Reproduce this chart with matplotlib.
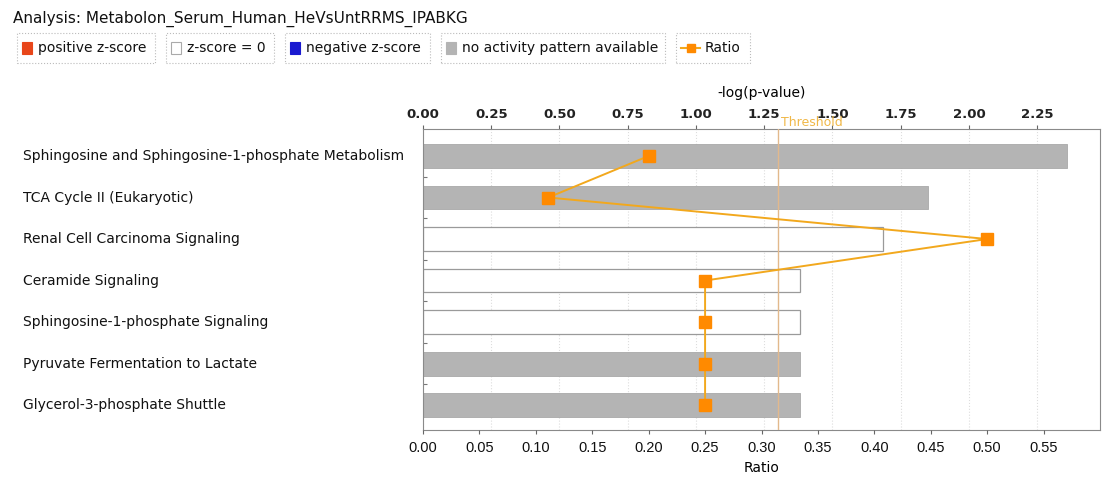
import matplotlib.pyplot as plt
import matplotlib.transforms as mtransforms
from matplotlib.patches import Rectangle
from matplotlib.lines import Line2D

pathways = [
    "Sphingosine and Sphingosine-1-phosphate Metabolism",
    "TCA Cycle II (Eukaryotic)",
    "Renal Cell Carcinoma Signaling",
    "Ceramide Signaling",
    "Sphingosine-1-phosphate Signaling",
    "Pyruvate Fermentation to Lactate",
    "Glycerol-3-phosphate Shuttle",
]
neg_log_p = [2.36, 1.85, 1.685, 1.38, 1.38, 1.38, 1.38]
ratio = [0.20, 0.111, 0.50, 0.25, 0.25, 0.25, 0.25]
zscore_kind = ["none", "none", "zero", "zero", "zero", "none", "none"]
threshold = 1.30

top_ticks = [0.00, 0.25, 0.50, 0.75, 1.00, 1.25, 1.50, 1.75, 2.00, 2.25]
bottom_ticks = [0.00, 0.05, 0.10, 0.15, 0.20, 0.25, 0.30, 0.35, 0.40, 0.45, 0.50, 0.55]

GRAY = "#b4b4b4"
ORANGE = "#ff8a00"
LINE = "#f2a81d"

fig = plt.figure(figsize=(11.03, 4.79), dpi=100)
W, H = 1103, 479
ax = fig.add_axes([423 / W, 1 - 430 / H, (1100 - 423) / W, (430 - 129) / H])
ax2 = ax.twiny()

ypos = list(range(len(pathways)))
for y, v, kind in zip(ypos, neg_log_p, zscore_kind):
    if kind == "none":
        ax.barh(y, v, height=0.575, color=GRAY, edgecolor="#a8a8a8", linewidth=0.6, zorder=2)
    else:
        ax.barh(y, v, height=0.575, color="white", edgecolor="#9a9a9a", linewidth=0.9, zorder=2)

# top axis: -log(p-value)
ax.set_xlim(0, 2.48)
ax.set_ylim(6.6, -0.65)
ax.xaxis.tick_top()
ax.xaxis.set_label_position("top")
ax.set_xticks(top_ticks)
ax.set_xticklabels([f"{t:.2f}" for t in top_ticks], fontsize=9.5, fontweight="bold", color="#222222")
ax.set_xlabel("-log(p-value)", fontsize=10, labelpad=8)
ax.grid(axis="x", color="#dddddd", linestyle=":", linewidth=0.8, zorder=0)
ax.tick_params(axis="x", length=3, width=0.8, pad=3, colors="#666666", labelcolor="#222222")
ax.set_yticks([y + 0.5 for y in ypos[:-1]])
ax.set_yticklabels([])
ax.tick_params(axis="y", length=3, direction="in", colors="#777777")
for s in ax.spines.values():
    s.set_color("#8a8a8a")
    s.set_linewidth(0.8)

ax.axvline(threshold, color="#e2b98c", linewidth=1.0, zorder=3)
ax.text(threshold + 0.01, -0.8, "Threshold", color="#f0b848", fontsize=9, va="center", ha="left",
        zorder=4, clip_on=False)

# pathway labels, left aligned
trans = mtransforms.blended_transform_factory(fig.transFigure, ax.transData)
for y, name in zip(ypos, pathways):
    ax.text(23 / W, y, name, transform=trans, ha="left", va="center", fontsize=10, color="#111111")

# bottom axis: Ratio
ax2.xaxis.tick_bottom()
ax2.xaxis.set_label_position("bottom")
ax2.set_xlim(0, 0.60)
ax2.set_xticks(bottom_ticks)
ax2.set_xticklabels([f"{t:.2f}" for t in bottom_ticks], fontsize=10.5, family="Liberation Sans", color="#111111")
ax2.set_xlabel("Ratio", fontsize=10, labelpad=4)
ax2.tick_params(axis="x", length=3, width=0.8, pad=5, colors="#666666", labelcolor="#111111")
for s in ax2.spines.values():
    s.set_visible(False)
ax2.plot(ratio, ypos, color=LINE, linewidth=1.4, marker="s", markersize=8,
         markerfacecolor=ORANGE, markeredgecolor=ORANGE, zorder=5)

# header
fig.text(13 / W, 1 - 19 / H, "Analysis: Metabolon_Serum_Human_HeVsUntRRMS_IPABKG",
         fontsize=11, va="center", ha="left", color="#111111")

legend_items = [
    (17, 155, "positive z-score", "square", "#e8461a", "#e8461a"),
    (166, 274, "z-score = 0", "square", "white", "#aaaaaa"),
    (285, 430, "negative z-score", "square", "#1a1ad0", "#1a1ad0"),
    (441, 665, "no activity pattern available", "square", "#b4b4b4", "#b4b4b4"),
    (676, 750, "Ratio", "line", ORANGE, LINE),
]
y0, y1 = 1 - 63 / H, 1 - 33 / H
for x0, x1, label, kind, fc, ec in legend_items:
    fig.patches.append(Rectangle((x0 / W, y0), (x1 - x0) / W, y1 - y0, transform=fig.transFigure,
                                 facecolor="white", edgecolor="#bbbbbb", linewidth=0.8, linestyle=":"))
    yc = (y0 + y1) / 2
    if kind == "square":
        fig.patches.append(Rectangle(((x0 + 5) / W, yc - 6 / H), 10 / W, 12 / H, transform=fig.transFigure,
                                     facecolor=fc, edgecolor=ec, linewidth=0.8))
        tx = x0 + 21
    else:
        fig.lines.append(Line2D([(x0 + 5) / W, (x0 + 24) / W], [yc, yc], transform=fig.transFigure,
                                color=ec, linewidth=1.5))
        fig.lines.append(Line2D([(x0 + 14.5) / W], [yc], transform=fig.transFigure, marker="s",
                                markersize=6, color=fc))
        tx = x0 + 29
    fig.text(tx / W, yc, label, fontsize=10, va="center", ha="left", color="#111111")

fig.savefig("out.png", dpi=100)
